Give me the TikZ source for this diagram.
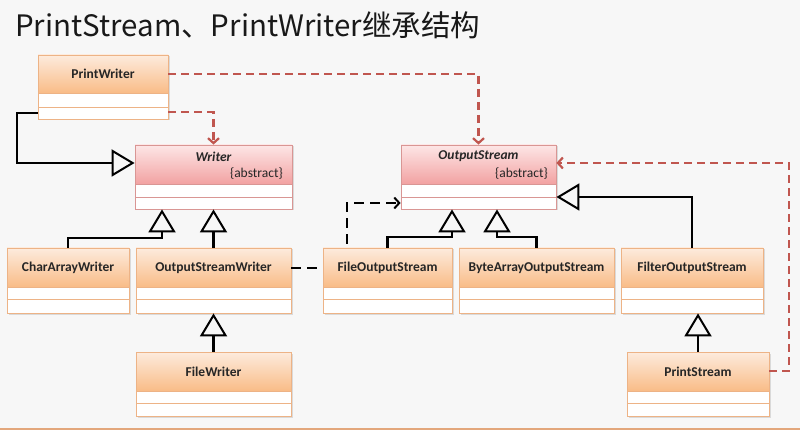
\documentclass[tikz,border=0pt]{standalone}
\usepackage{fontspec}
\setmainfont{Carlito}
\newfontfamily\cjk{Noto Sans CJK SC}
\usetikzlibrary{arrows.meta,fit}
\definecolor{bg}{HTML}{F7F7F7}
\definecolor{otop}{HTML}{FDEBDD}
\definecolor{obot}{HTML}{F9BC87}
\definecolor{oln}{HTML}{EDB386}
\definecolor{ptop}{HTML}{FDE6E6}
\definecolor{pbot}{HTML}{F2A2A2}
\definecolor{pln}{HTML}{D99694}
\definecolor{redd}{HTML}{C0564F}
\definecolor{shd}{HTML}{DADADA}
\definecolor{bottomln}{HTML}{E3A77C}
\newcommand\umlcls[8]{%
  \fill[shd] (#2+1.5,#3+1.5) rectangle (#4+1.5,#5+1.5);
  \fill[white] (#2,#3) rectangle (#4,#5);
  \shade[top color=#8top,bottom color=#8bot] (#2,#3) rectangle (#4,#6);
  \draw[#8ln,line width=0.8pt] (#2,#6) -- (#4,#6) (#2,#7) -- (#4,#7);
  \node[draw=#8ln,line width=0.8pt,inner sep=0pt,fit={(#2,#3) (#4,#5)}] (#1) {};
}
\begin{document}
\begin{tikzpicture}[x=1pt,y=-1pt,
  gen/.style={draw=black,line width=2.2pt,-{Triangle[open,length=23pt,width=27pt,line width=2pt]}},
  dep/.style={draw=redd,line width=2.8pt,dash pattern=on 8pt off 5pt,-{Straight Barb[length=5pt,width=11pt,line width=2.2pt]}},
  use/.style={draw=black,line width=2.2pt,dash pattern=on 10pt off 6pt,-{Straight Barb[length=5pt,width=11pt,line width=2pt]}},
  lbl/.style={font=\bfseries\fontsize{13.5}{15}\selectfont,inner sep=0pt,text=black!85},
  ilbl/.style={font=\bfseries\itshape\fontsize{13.5}{15}\selectfont,inner sep=0pt,text=black!85},
  abst/.style={font=\fontsize{13.5}{15}\selectfont,inner sep=0pt,anchor=east,text=black!85},
]
\useasboundingbox (0,0) rectangle (800,430);
\fill[bg] (0,0) rectangle (800,430);
\draw[bottomln,line width=1.2pt] (0,429) -- (800,429);

\node[anchor=base west,inner sep=0pt,font=\cjk\fontsize{29.5}{36}\selectfont,text=black!90] (title) at (15,37) {PrintStream、PrintWriter继承结构};

% classes
\umlcls{pw}{38}{55}{168}{119}{93}{107}{o}
\umlcls{writer}{135}{145}{292}{209}{184}{197}{p}
\umlcls{os}{401}{145}{556}{209}{184}{197}{p}
\umlcls{caw}{7}{248}{129}{313}{287}{299}{o}
\umlcls{osw}{136}{248}{291}{313}{287}{299}{o}
\umlcls{fw}{136}{352}{291}{416}{391}{403}{o}

% dashed black use line passes behind FileOutputStream
\draw[use] (osw.east |- 0,268) -- (347,268) -- (347,203) -- (os.west |- 0,203);

\umlcls{fos}{323}{248}{452}{313}{287}{299}{o}
\umlcls{baos}{459}{248}{614}{313}{287}{299}{o}
\umlcls{filt}{621}{248}{763}{313}{287}{299}{o}
\umlcls{ps}{627}{352}{769}{416}{391}{403}{o}

% labels
\node[lbl] (t-pw) at (103,74) {PrintWriter};
\node[ilbl] (t-writer) at (213.5,157) {Writer};
\node[abst] (a-writer) at (283,174) {\{abstract\}};
\node[ilbl] (t-os) at (478.5,156) {OutputStream};
\node[abst] (a-os) at (548,174) {\{abstract\}};
\node[lbl] (t-caw) at (68,268) {CharArrayWriter};
\node[lbl] (t-osw) at (213.5,268) {OutputStreamWriter};
\node[lbl] (t-fw) at (213.5,372) {FileWriter};
\node[lbl] (t-fos) at (387.5,268) {FileOutputStream};
\node[lbl] (t-baos) at (536.5,268) {ByteArrayOutputStream};
\node[lbl] (t-filt) at (692,268) {FilterOutputStream};
\node[lbl] (t-ps) at (698,372) {PrintStream};

% generalizations
\draw[gen] (pw.west |- 0,113) -- (17,113) -- (17,163) -- (writer.west |- 0,163);
\draw[gen] (caw.north) |- (162,238) -- (writer.south -| 162,0);
\draw[gen] (osw.north) -- (writer.south -| osw.north);
\draw[gen] (fw.north) -- (osw.south);
\draw[gen] (fos.north) |- (452,237) -- (os.south -| 452,0);
\draw[gen] (baos.north) |- (497,237) -- (os.south -| 497,0);
\draw[gen] (filt.north) |- (os.east |- 0,197);
\draw[gen] (ps.north -| 698,0) -- (filt.south -| 698,0);

% dependencies
\draw[dep] (pw.east |- 0,112) -| (writer.north);
\draw[dep] (pw.east |- 0,74) -| (os.north);
\draw[dep] (ps.east |- 0,371) -- (789,371) -- (789,163) -- (os.east |- 0,163);
\end{tikzpicture}
\end{document}
